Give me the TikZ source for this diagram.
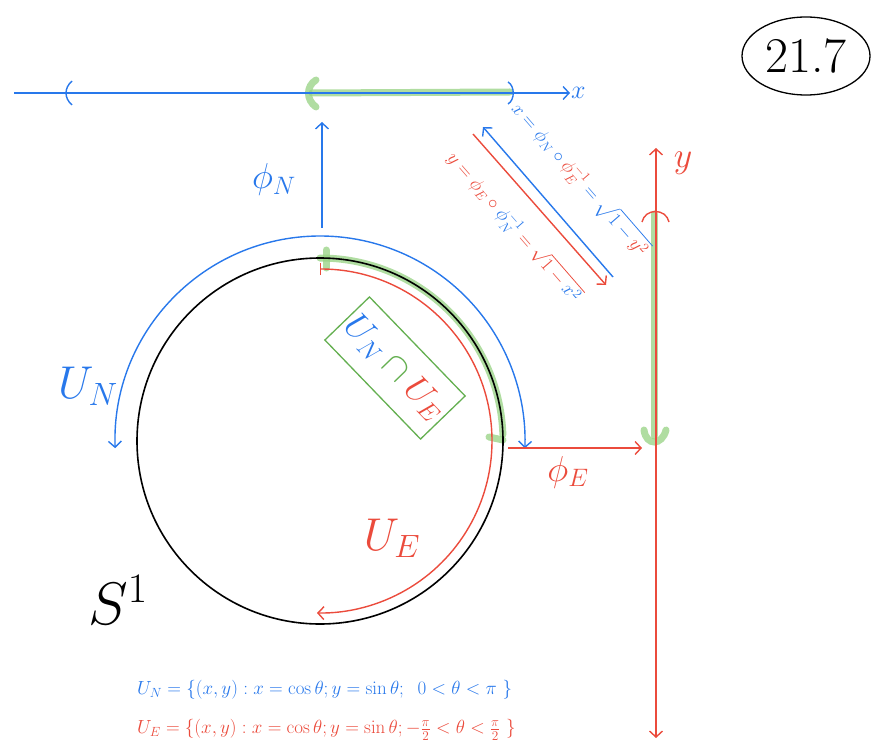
\RequirePackage{fix-cm}
\documentclass[tikz,border=0pt]{standalone}
\usepackage{amsmath,amssymb}
\usepackage{tikz}
\usetikzlibrary{
  shapes.geometric,
  arrows.meta,
  positioning
}
\definecolor{penblue}{RGB}{40,120,235}
\definecolor{penred}{RGB}{235,75,60}
\definecolor{pengreen}{RGB}{100,175,80}
\definecolor{hilite}{RGB}{150,210,130}
\tikzset{
  bluepen/.style={draw=penblue,line width=1.4pt},
  redpen/.style={draw=penred,line width=1.4pt},
  blackpen/.style={draw=black,line width=1.6pt},
  hlpen/.style={draw=hilite,line width=7pt,opacity=.75,line cap=round},
  barb/.style={-{Straight Barb[length=6pt,width=13pt]}},
  twobarb/.style={{Straight Barb[length=6pt,width=13pt]}-{Straight Barb[length=6pt,width=13pt]}},
  bluelbl/.style={text=penblue,inner sep=1pt},
  redlbl/.style={text=penred,inner sep=1pt}
}
\newcommand{\fsz}[1]{\fontsize{#1}{#1}\selectfont}

\begin{document}
\begin{tikzpicture}[x=1pt,y=1pt]
  \useasboundingbox (0,0) rectangle (872,-751);

  % named points
  \coordinate (O) at (320,-441);
  \coordinate (xaxL) at (14,-93);
  \coordinate (xaxR) at (570,-93);
  \coordinate (yaxB) at (656,-738);
  \coordinate (yaxT) at (656,-148);
  \coordinate (phiNs) at (322,-228);
  \coordinate (phiNe) at (322,-122);
  \coordinate (phiEs) at (508,-448);
  \coordinate (phiEe) at (642,-448);
  \coordinate (trBs) at (613,-277);
  \coordinate (trBe) at (483,-127);
  \coordinate (trRs) at (473,-134);
  \coordinate (trRe) at (606,-285);

  % green highlights
  \draw[hlpen] (312,-93) -- (510,-92);
  \draw[hlpen] (316,-80) .. controls (306,-86) and (306,-100) .. (316,-107);
  \draw[hlpen] ([shift={(90:183)}]O) arc[start angle=90,end angle=2,radius=183];
  \draw[hlpen] (326,-250) -- (326,-268);
  \draw[hlpen] (654,-214) -- (654,-436);
  \draw[hlpen] (644,-430) .. controls (646,-446) and (662,-446) .. (666,-430);
  \draw[hlpen] (489,-437) -- (503,-440);

  % x axis
  \draw[bluepen,barb] (xaxL) -- (xaxR);
  \node[bluelbl,anchor=west,font=\fsz{26}] (xlbl) at (xaxR) {$x$};
  \draw[bluepen] (72,-81) .. controls (64,-88) and (64,-98) .. (72,-105);
  \draw[bluepen] (508,-82) .. controls (515,-86) and (515,-100) .. (508,-104);

  % y axis
  \draw[redpen,twobarb] (yaxB) -- (yaxT);
  \node[redlbl,font=\fsz{36}] (ylbl) at (683,-163) {$y$};
  \draw[redpen] (642,-222) .. controls (645,-208) and (666,-208) .. (669,-222);

  % the circle and its charts
  \draw[blackpen] (O) circle[radius=183];
  \draw[bluepen,twobarb] ([shift={(182:205)}]O) arc[start angle=182,end angle=-2,radius=205];
  \draw[redpen,{Bar[width=12pt]}-{Straight Barb[length=6pt,width=13pt]}]
    ([shift={(90:172)}]O) arc[start angle=90,end angle=-91,radius=172];

  \node[bluelbl,font=\fsz{46}] (UNlbl) at (88,-386) {$U_N$};
  \node[redlbl,font=\fsz{46}] (UElbl) at (392,-538) {$U_E$};
  \node[inner sep=1pt,font=\fsz{60}] (S1lbl) at (118,-600) {$S^1$};

  % chart maps
  \draw[bluepen,barb] (phiNs) -- (phiNe);
  \node[bluelbl,font=\fsz{36}] (phiNlbl) at (274,-180) {$\phi_N$};
  \draw[redpen,barb] (phiEs) -- (phiEe);
  \node[redlbl,font=\fsz{36}] (phiElbl) at (568,-472) {$\phi_E$};

  % transition maps
  \draw[bluepen,barb] (trBs) -- (trBe);
  \draw[redpen,barb] (trRs) -- (trRe);
  \node[bluelbl,rotate=-49,font=\fsz{19}] (trBlbl) at (580,-179)
    {$x=\phi_N\circ{\color{penred}\phi_E^{-1}}=\sqrt{1-{\color{penred}y^2}}$};
  \node[redlbl,rotate=-49,font=\fsz{19}] (trRlbl) at (514,-227)
    {$y=\phi_E\circ{\color{penblue}\phi_N^{-1}}=\sqrt{1-{\color{penblue}x^2}}$};

  % overlap box
  \node[draw=pengreen,line width=1.3pt,rotate=-46,minimum width=134,minimum height=62,
        font=\fsz{36}] (capbox) at (395,-368)
    {$\color{penblue}U_N\color{pengreen}\cap\color{penred}U_E$};

  % page number
  \node[draw,ellipse,line width=1.3pt,minimum width=128,minimum height=78,inner sep=0pt,
        font=\fsz{50}] (pagenum) at (806,-56) {21.7};

  % definitions
  \node[bluelbl,anchor=west,font=\fsz{19}] (UNdef) at (136,-690)
    {$U_N=\{(x,y): x=\cos\theta; y=\sin\theta;\;\; 0<\theta<\pi\ \}$};
  \node[redlbl,anchor=west,font=\fsz{19}] (UEdef) at (136,-730)
    {$U_E=\{(x,y): x=\cos\theta; y=\sin\theta; -\tfrac{\pi}{2}<\theta<\tfrac{\pi}{2}\ \}$};
\end{tikzpicture}
\end{document}
